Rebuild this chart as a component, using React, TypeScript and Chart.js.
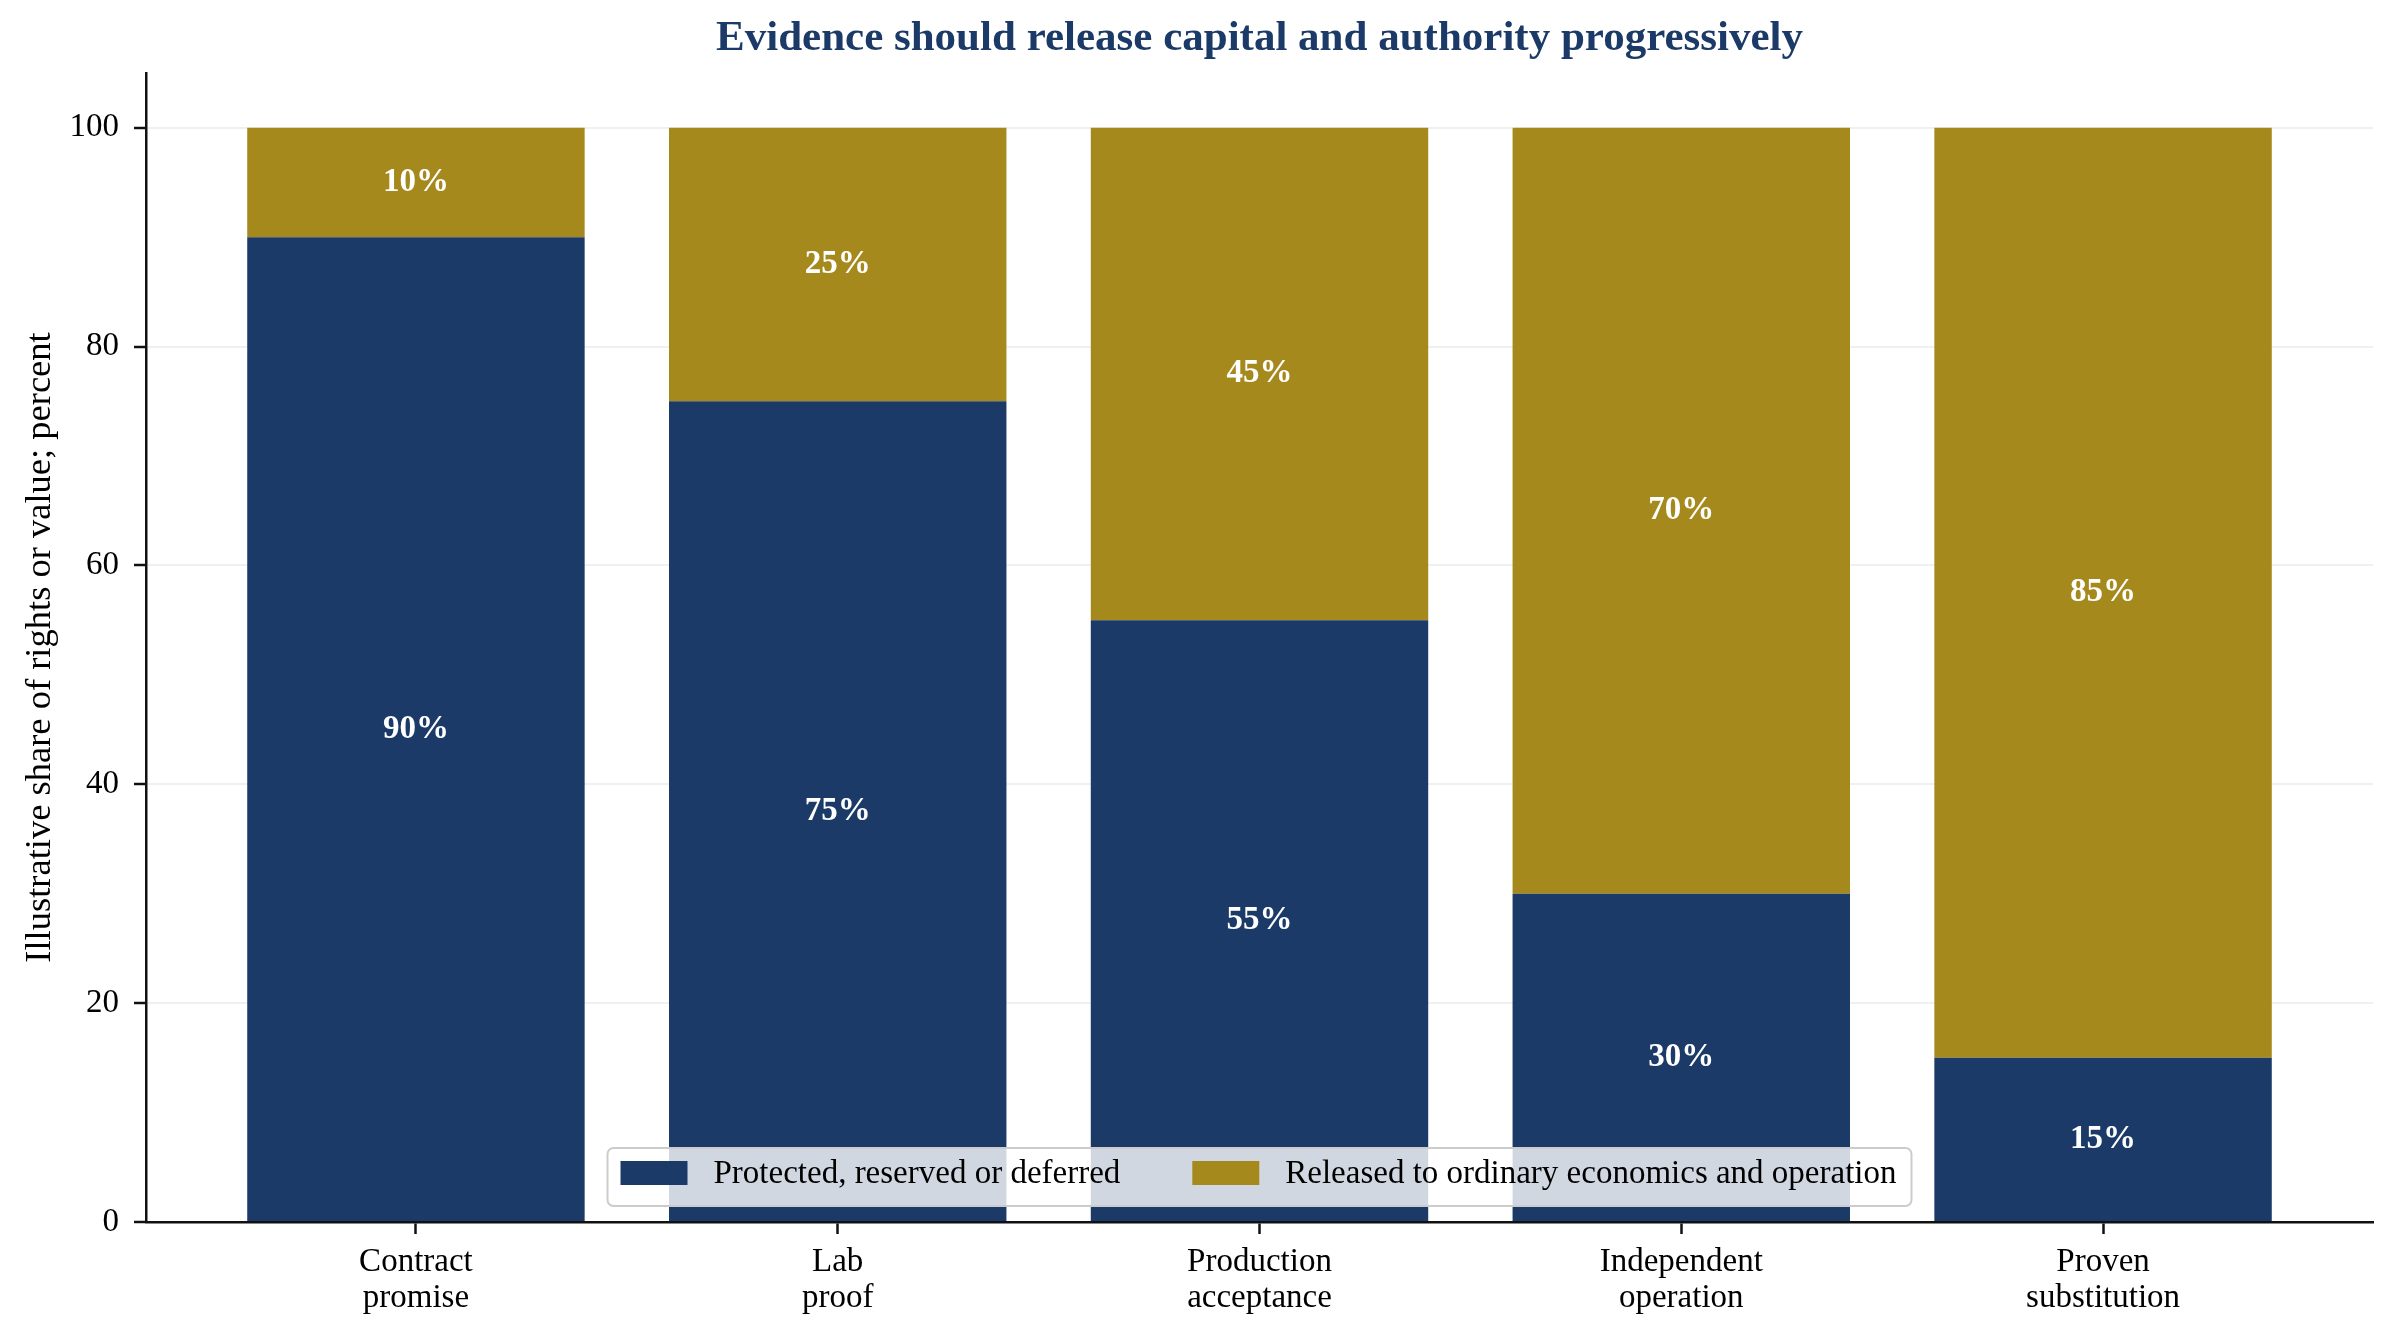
import React, { useEffect, useRef } from 'react';
import { Chart, registerables } from 'chart.js';

Chart.register(...registerables);

const categories = [
    ['Contract', 'promise'],
    ['Lab', 'proof'],
    ['Production', 'acceptance'],
    ['Independent', 'operation'],
    ['Proven', 'substitution'],
];
const protectedShare = [90, 75, 55, 30, 15];
const releasedShare = [10, 25, 45, 70, 85];
const seriesNames = ['Protected, reserved or deferred', 'Released to ordinary economics and operation'];
const yTicks = [0, 20, 40, 60, 80, 100];

const NAVY = '#1b3a67';
const GOLD = '#a6891d';
const SERIF = '"Liberation Serif", "Times New Roman", Times, serif';

// white percent labels in the middle of each segment
const barLabels = {
    id: 'barLabels',
    afterDatasetsDraw(chart: any) {
        const ctx = chart.ctx;
        ctx.save();
        ctx.font = `bold 33px ${SERIF}`;
        ctx.fillStyle = '#ffffff';
        ctx.textAlign = 'center';
        ctx.textBaseline = 'middle';
        chart.data.datasets.forEach((ds: any, i: number) => {
            chart.getDatasetMeta(i).data.forEach((bar: any, j: number) => {
                const { x, y, base } = bar.getProps(['x', 'y', 'base'], true);
                ctx.fillText(`${ds.data[j].y}%`, x, (y + base) / 2);
            });
        });
        ctx.restore();
    },
};

// legend box inside the plot, lower centre
const innerLegend = {
    id: 'innerLegend',
    afterDraw(chart: any) {
        const { ctx, chartArea } = chart;
        ctx.save();
        ctx.font = `33px ${SERIF}`;
        const sw = 67, sh = 24, padL = 13, padR = 15, gap = 26, colGap = 72, h = 58;
        const items = chart.data.datasets.map((ds: any) => ({
            label: ds.label,
            color: ds.backgroundColor,
            w: ctx.measureText(ds.label).width,
        }));
        const width = padL + padR
            + items.reduce((a: number, it: any) => a + sw + gap + it.w, 0)
            + colGap * (items.length - 1);
        const left = (chartArea.left + chartArea.right) / 2 - width / 2;
        const top = chartArea.bottom - 16 - h;

        ctx.beginPath();
        ctx.roundRect(left, top, width, h, 6);
        ctx.fillStyle = 'rgba(255,255,255,0.8)';
        ctx.fill();
        ctx.lineWidth = 2;
        ctx.strokeStyle = '#cccccc';
        ctx.stroke();

        const cy = top + h / 2 - 4;
        let x = left + padL;
        ctx.textBaseline = 'middle';
        ctx.textAlign = 'left';
        items.forEach((it: any) => {
            ctx.fillStyle = it.color;
            ctx.fillRect(x, cy - sh / 2, sw, sh);
            x += sw + gap;
            ctx.fillStyle = '#000000';
            ctx.fillText(it.label, x, cy + 1);
            x += it.w + colGap;
        });
        ctx.restore();
    },
};

const App: React.FC = () => {
    const canvasRef = useRef<HTMLCanvasElement>(null);
    const chartRef = useRef<Chart | null>(null);

    useEffect(() => {
        document.body.style.margin = '0';
        if (!canvasRef.current) return;
        if (chartRef.current) chartRef.current.destroy();

        Chart.defaults.font.family = SERIF;

        chartRef.current = new Chart(canvasRef.current, {
            type: 'bar',
            data: {
                datasets: [
                    {
                        label: seriesNames[0],
                        data: protectedShare.map((v, i) => ({ x: i, y: v })),
                        backgroundColor: NAVY,
                        barPercentage: 0.8,
                        categoryPercentage: 1,
                    },
                    {
                        label: seriesNames[1],
                        data: releasedShare.map((v, i) => ({ x: i, y: v })),
                        backgroundColor: GOLD,
                        barPercentage: 0.8,
                        categoryPercentage: 1,
                    },
                ],
            },
            options: {
                responsive: false,
                devicePixelRatio: 1,
                animation: false,
                layout: { padding: { left: 0, right: 24, top: 0, bottom: 0 } },
                plugins: {
                    legend: { display: false },
                    tooltip: { enabled: false },
                    title: {
                        display: true,
                        fullSize: false,
                        text: 'Evidence should release capital and authority progressively',
                        color: NAVY,
                        font: { family: SERIF, size: 43, weight: 'bold', lineHeight: 1.2 },
                        padding: { top: 13, bottom: 8.4 },
                    },
                },
                scales: {
                    x: {
                        type: 'linear',
                        stacked: true,
                        offset: false,
                        min: -0.64,
                        max: 4.64,
                        afterBuildTicks: (s: any) => { s.ticks = categories.map((_, i) => ({ value: i })); },
                        afterFit: (s: any) => { s.height = 120; },
                        ticks: {
                            callback: (v: any) => categories[v] ?? '',
                            color: '#000000',
                            font: { family: SERIF, size: 33, lineHeight: 1.1 },
                            padding: 10,
                            maxRotation: 0,
                            autoSkip: false,
                        },
                        grid: {
                            offset: false,
                            drawOnChartArea: false,
                            drawTicks: true,
                            tickLength: 12,
                            tickWidth: 2.5,
                            tickColor: '#111111',
                        },
                        border: { display: true, color: '#111111', width: 2.5 },
                    },
                    y: {
                        stacked: true,
                        min: 0,
                        max: 105,
                        z: 1,
                        afterBuildTicks: (s: any) => { s.ticks = yTicks.map(v => ({ value: v })); },
                        afterFit: (s: any) => { s.width = 146; },
                        ticks: {
                            color: '#000000',
                            font: { family: SERIF, size: 33 },
                            padding: 15,
                        },
                        grid: {
                            color: 'rgba(170,170,170,0.18)',
                            lineWidth: 2,
                            tickLength: 12,
                            tickWidth: 2.5,
                            tickColor: '#111111',
                        },
                        border: { display: true, color: '#111111', width: 2.5 },
                        title: {
                            display: true,
                            text: 'Illustrative share of rights or value; percent',
                            color: '#000000',
                            font: { family: SERIF, size: 36.5 },
                            padding: { top: 19, bottom: 0 },
                        },
                    },
                },
            } as any,
            plugins: [barLabels, innerLegend],
        });

        return () => {
            chartRef.current?.destroy();
            chartRef.current = null;
        };
    }, []);

    return (
        <div style={{ width: 2397, height: 1342, background: '#ffffff' }}>
            <canvas ref={canvasRef} width={2397} height={1342} style={{ display: 'block' }}></canvas>
        </div>
    );
};

export default App;
